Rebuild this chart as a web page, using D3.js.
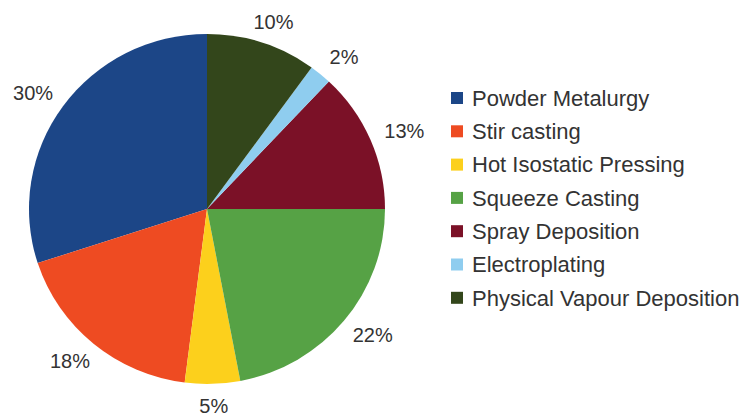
<!DOCTYPE html>
<html>
<head>
<meta charset="utf-8">
<script src="https://cdn.jsdelivr.net/npm/d3@7"></script>
<style>
  body { margin: 0; background: #fff; }
  text { font-family: "Liberation Sans", Arial, sans-serif; fill: #333; }
</style>
</head>
<body>
<div id="chart"></div>
<script>
const categories = ["Powder Metalurgy", "Stir casting", "Hot Isostatic Pressing", "Squeeze Casting",
                    "Spray Deposition", "Electroplating", "Physical Vapour Deposition"];
const shares = [30, 18, 5, 22, 13, 2, 10];
const colors = ["#1c4687", "#ee4b22", "#fcd01c", "#56a245", "#7b1127", "#8fcdef", "#33461b"];

const width = 750, height = 419;
const cx = 207, cy = 209, rx = 178, ry = 175;

const svg = d3.select("#chart").append("svg")
    .attr("width", width)
    .attr("height", height);

const data = categories.map((c, i) => ({name: c, value: shares[i], color: colors[i]}));

// slices run counter-clockwise from 12 o'clock, in legend order
const pie = d3.pie().sort(null).value(d => d.value)
    .startAngle(0).endAngle(-2 * Math.PI);
const arcs = pie(data);
const arc = d3.arc().innerRadius(0).outerRadius(rx);

const pieGroup = svg.append("g")
    .attr("transform", `translate(${cx},${cy}) scale(1,${ry / rx})`);

pieGroup.selectAll("path")
    .data(arcs)
    .enter()
    .append("path")
    .attr("d", arc)
    .attr("fill", d => d.data.color);

// percent labels outside the rim
const lx = 215, ly = 197;
svg.selectAll(".pct")
    .data(arcs)
    .enter()
    .append("text")
    .attr("class", "pct")
    .attr("text-anchor", "middle")
    .attr("dy", "0.35em")
    .style("font-size", "20px")
    .attr("x", d => cx + lx * Math.sin((d.startAngle + d.endAngle) / 2))
    .attr("y", d => cy - ly * Math.cos((d.startAngle + d.endAngle) / 2))
    .text(d => d.data.value + "%");

// legend
const legend = svg.append("g").attr("transform", "translate(451,98)");
const rowH = 33.3;
const items = legend.selectAll("g")
    .data(data)
    .enter()
    .append("g")
    .attr("transform", (d, i) => `translate(0,${i * rowH})`);

items.append("rect")
    .attr("x", 0).attr("y", -6)
    .attr("width", 12).attr("height", 12)
    .attr("fill", d => d.color);

items.append("text")
    .attr("x", 21)
    .attr("dy", "0.35em")
    .style("font-size", "22px")
    .text(d => d.name);
</script>
</body>
</html>
